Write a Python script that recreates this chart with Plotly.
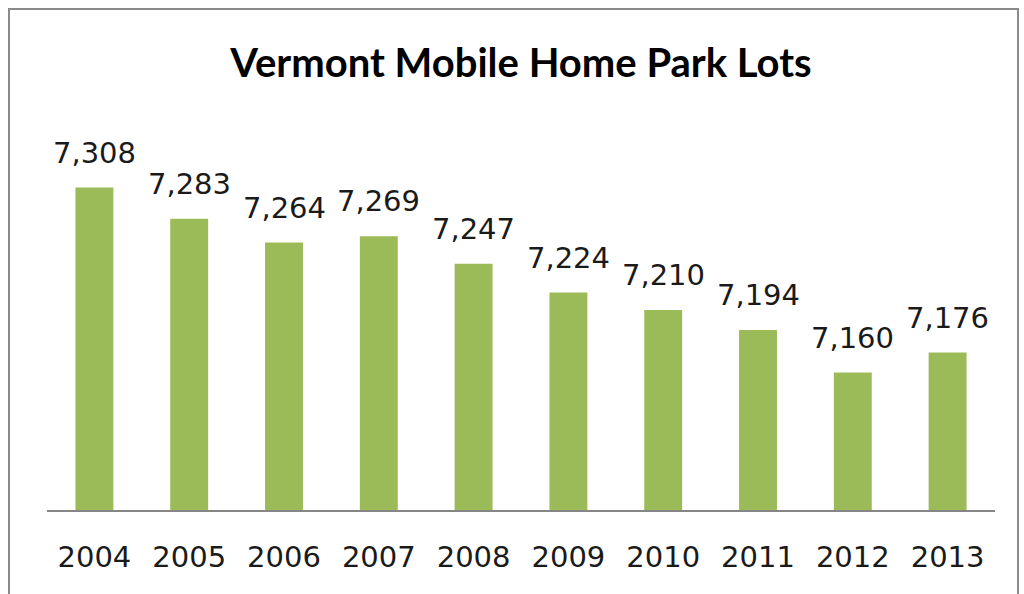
import plotly.graph_objects as go

years = ["2004", "2005", "2006", "2007", "2008", "2009", "2010", "2011", "2012", "2013"]
lots = [7308, 7283, 7264, 7269, 7247, 7224, 7210, 7194, 7160, 7176]
title_text = "Vermont Mobile Home Park Lots"

W, H = 1024, 594
ML, MR, MT, MB = 47, 29, 135, 84
pw = W - ML - MR
ph = H - MT - MB

def px_to_paper_x(px):
    return (px - ML) / pw

def px_to_paper_y(py):
    return (H - MB - py) / ph

pos = list(range(len(years)))

fig = go.Figure()
fig.add_trace(go.Bar(
    x=pos, y=lots, width=0.4,
    marker=dict(color="#9BBB59", line=dict(width=0)),
    hoverinfo="skip",
))

for i, v in zip(pos, lots):
    fig.add_annotation(
        x=i, y=v, text=f"{v:,}", showarrow=False,
        yanchor="bottom", yshift=16,
        font=dict(family="DejaVu Sans", size=29, color="#1a1a1a"),
    )

fig.add_shape(
    type="rect", xref="paper", yref="paper",
    x0=px_to_paper_x(9), x1=px_to_paper_x(1018),
    y0=px_to_paper_y(640), y1=px_to_paper_y(9),
    line=dict(color="#8a8a8a", width=2), fillcolor="rgba(0,0,0,0)", layer="below",
)

fig.update_layout(
    width=W, height=H,
    margin=dict(l=ML, r=MR, t=MT, b=MB),
    paper_bgcolor="white", plot_bgcolor="white",
    showlegend=False,
    title=dict(
        text=title_text, x=0.5, xref="paper", xanchor="center",
        y=1 - 63 / H, yanchor="middle", yref="container",
        font=dict(family="Lato", size=40, color="#000000", weight="bold"),
    ),
    xaxis=dict(
        range=[-0.5, len(years) - 0.5],
        tickmode="array", tickvals=pos, ticktext=years,
        showgrid=False, zeroline=False, showline=True, linecolor="#868686", linewidth=2,
        ticks="outside", ticklen=20, tickcolor="rgba(0,0,0,0)",
        tickfont=dict(family="DejaVu Sans", size=29, color="#1a1a1a"),
        fixedrange=True,
    ),
    yaxis=dict(
        range=[7050, 7350], visible=False, showgrid=False, fixedrange=True,
    ),
)

fig.write_html("out.html")
